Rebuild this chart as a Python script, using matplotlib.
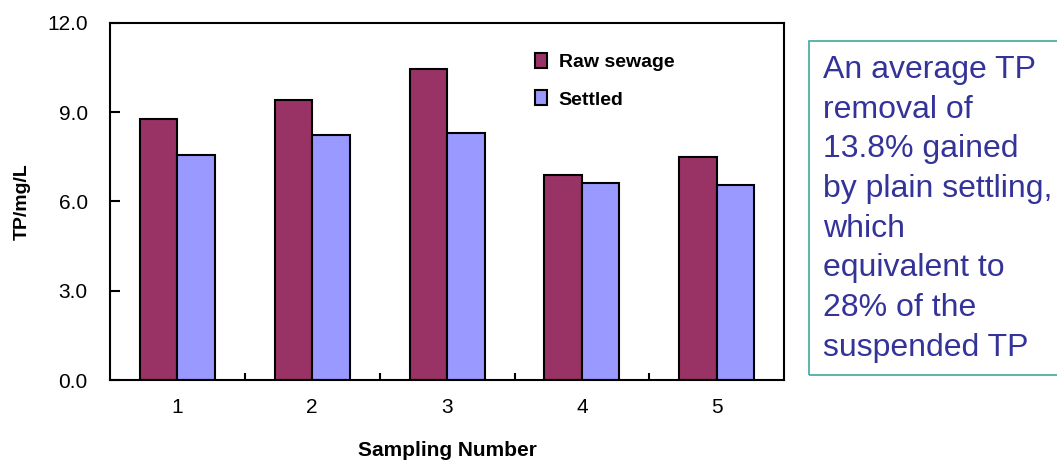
import numpy as np
import matplotlib.pyplot as plt
from matplotlib.patches import Rectangle

plt.rcParams['font.family'] = ['Liberation Sans', 'DejaVu Sans']

samples = ['1', '2', '3', '4', '5']
raw_sewage = [8.78, 9.40, 10.46, 6.90, 7.49]
settled = [7.57, 8.22, 8.28, 6.61, 6.55]
note = ("An average TP\nremoval of\n13.8% gained\nby plain settling,\n"
        "which\nequivalent to\n28% of the\nsuspended TP")

fig = plt.figure(figsize=(10.57, 4.63), dpi=100)
ax = fig.add_axes([0.104, 0.179, 0.638, 0.772])

x = np.arange(1, len(samples) + 1)
w = 0.278
ax.bar(x - w / 2, raw_sewage, w, color='#993366', edgecolor='black',
       linewidth=1.5, label='Raw sewage')
ax.bar(x + w / 2, settled, w, color='#9999FF', edgecolor='black',
       linewidth=1.5, label='Settled')

ax.set_xlim(0.5, 5.5)
ax.set_ylim(0, 12)
ax.set_yticks([0, 3, 6, 9, 12])
ax.set_yticklabels(['%.1f' % v for v in [0, 3, 6, 9, 12]])
ax.tick_params(axis='y', direction='in', length=7, width=1.5, pad=16,
               labelsize=15)

ax.set_xticks(x)
ax.set_xticklabels(samples)
ax.tick_params(axis='x', which='major', length=0, pad=13, labelsize=15)
ax.set_xticks(np.arange(1.5, 5.5, 1), minor=True)
ax.tick_params(axis='x', which='minor', direction='in', length=5, width=1.5)

for s in ax.spines.values():
    s.set_linewidth(1.5)

ax.set_ylabel('TP/mg/L', fontsize=14, fontweight='bold', labelpad=12)
ax.set_xlabel('Sampling Number', fontsize=15, fontweight='bold', labelpad=17)

ax.legend(loc='upper left', bbox_to_anchor=(0.605, 0.965), frameon=False,
          prop={'size': 14, 'weight': 'bold'}, handlelength=0.6,
          handleheight=0.8, labelspacing=1.0, handletextpad=0.6)

# note box on the right
fig.patches.append(Rectangle((809 / 1057, 1 - 375 / 463), 0.3, (375 - 41) / 463,
                             transform=fig.transFigure, fill=False,
                             edgecolor='#40a8a0', linewidth=1.2))
fig.text(823 / 1057, 1 - 55 / 463, note, ha='left', va='top', fontsize=23,
         color='#333399', linespacing=1.42)

plt.savefig('out.png', dpi=100)
